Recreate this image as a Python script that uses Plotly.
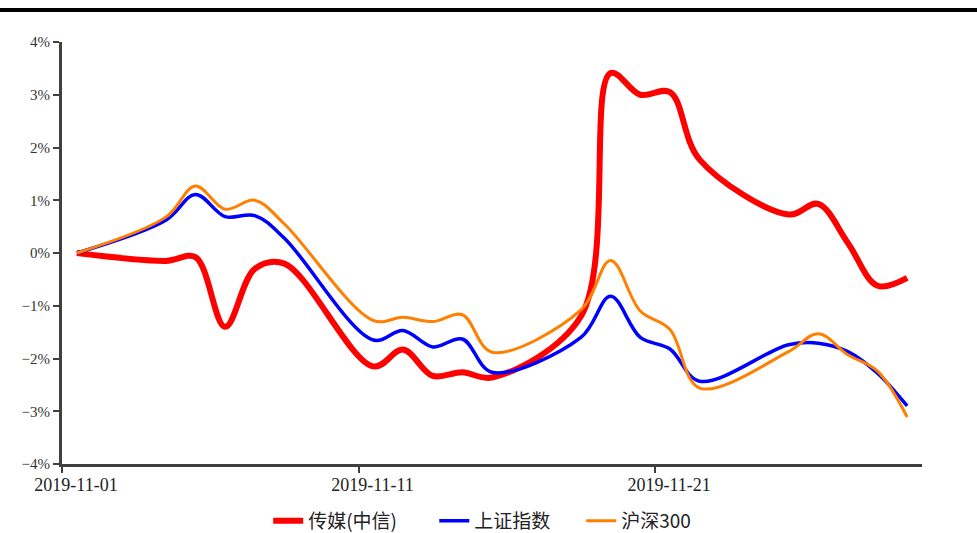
import pandas as pd
import plotly.graph_objects as go

dates = ["2019-11-01", "2019-11-04", "2019-11-05", "2019-11-06", "2019-11-07", "2019-11-08",
         "2019-11-11", "2019-11-12", "2019-11-13", "2019-11-14", "2019-11-15",
         "2019-11-18", "2019-11-19", "2019-11-20", "2019-11-21", "2019-11-22",
         "2019-11-25", "2019-11-26", "2019-11-27", "2019-11-28", "2019-11-29"]

media = [0.00, -0.15, -0.08, -1.40, -0.30, -0.20,
         -2.15, -1.83, -2.33, -2.26, -2.36,
         -1.20, 3.41, 3.00, 3.05, 1.77,
         0.73, 0.93, 0.19, -0.62, -0.47]

sse = [0.00, 0.62, 1.11, 0.69, 0.71, 0.28,
       -1.65, -1.47, -1.78, -1.63, -2.26,
       -1.60, -0.82, -1.60, -1.82, -2.43,
       -1.74, -1.71, -1.87, -2.28, -2.90]

csi300 = [0.00, 0.68, 1.27, 0.83, 1.00, 0.55,
          -1.28, -1.22, -1.30, -1.17, -1.88,
          -1.08, -0.14, -1.10, -1.45, -2.56,
          -1.87, -1.53, -1.93, -2.24, -3.11]

names = ["传媒(中信)", "上证指数", "沪深300"]
colors = ["#FF0000", "#0000FF", "#FF8000"]
widths = [6, 3.5, 3]
legend_ids = ["legend", "legend2", "legend3"]
legend_x = [0.2745, 0.4445, 0.5949]

tick_dates = ["2019-11-01", "2019-11-11", "2019-11-21"]
y_ticks = [-4, -3, -2, -1, 0, 1, 2, 3, 4]
y_labels = ["−4%", "−3%", "−2%", "−1%", "0%", "1%", "2%", "3%", "4%"]

x = pd.to_datetime(dates) + pd.Timedelta(hours=12)

fig = go.Figure()
for name, vals, c, w, lg in zip(names, [media, sse, csi300], colors, widths, legend_ids):
    fig.add_trace(go.Scatter(
        x=x, y=vals, name=name, mode="lines", legend=lg,
        line=dict(color=c, width=w, shape="spline", smoothing=1.0),
    ))

legend_font = dict(family="Noto Sans CJK SC", size=19, color="#222222")
legends = {}
for lg, lx in zip(legend_ids, legend_x):
    legends[lg] = dict(orientation="h", xref="container", yref="container",
                       x=lx, xanchor="left", y=0.0225, yanchor="middle",
                       font=legend_font, bgcolor="rgba(0,0,0,0)")

axis_color = "#404040"
fig.update_layout(
    width=977, height=533,
    margin=dict(l=62, r=55, t=42, b=69, autoexpand=False),
    paper_bgcolor="white", plot_bgcolor="white",
    showlegend=True,
    xaxis=dict(
        type="date", range=["2019-11-01", "2019-11-30"],
        tickvals=tick_dates, ticktext=tick_dates,
        showgrid=False, zeroline=False,
        showline=True, linecolor=axis_color, linewidth=3,
        ticks="outside", ticklen=6, tickwidth=2, tickcolor=axis_color,
        ticklabelshift=14, ticklabelstandoff=-4,
        tickfont=dict(family="Liberation Serif", size=18, color="#222222"),
    ),
    yaxis=dict(
        range=[-4, 4], tickvals=y_ticks, ticktext=y_labels,
        showgrid=False, zeroline=False,
        showline=True, linecolor=axis_color, linewidth=3,
        ticks="outside", ticklen=6, tickwidth=2, tickcolor=axis_color,
        tickfont=dict(family="Liberation Serif", size=15, color="#333333"),
    ),
    shapes=[dict(type="line", xref="paper", yref="paper",
                 x0=-0.08, x1=1.08, y0=1.076, y1=1.076,
                 line=dict(color="black", width=4))],
    **legends,
)

fig.write_html("out.html", config={"displayModeBar": False},
               post_script="document.body.style.margin='0px';document.body.style.overflow='hidden';")
